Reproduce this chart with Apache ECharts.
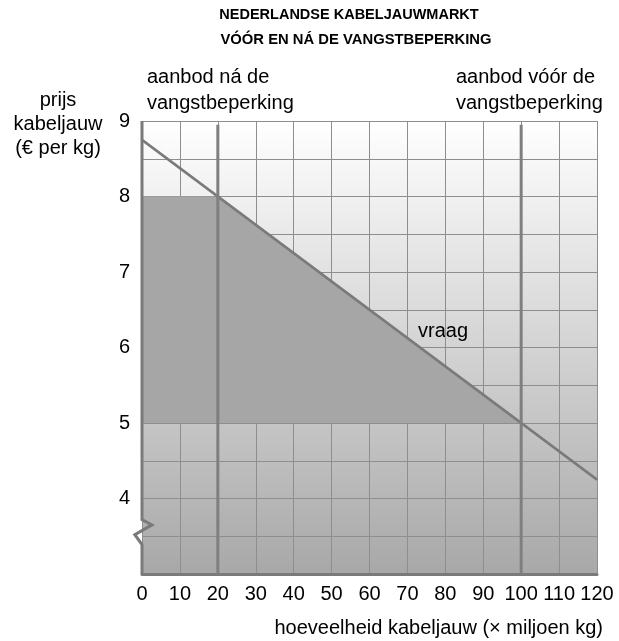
<!DOCTYPE html>
<html>
<head>
<meta charset="utf-8">
<script src="https://cdn.jsdelivr.net/npm/echarts@6/dist/echarts.min.js"></script>
<style>
  html, body { margin: 0; padding: 0; background: #fff; }
  #chart { width: 619px; height: 641px; }
</style>
</head>
<body>
<div id="chart"></div>
<script>
  // ===== 数据 =====
  const xTicks = [0, 10, 20, 30, 40, 50, 60, 70, 80, 90, 100, 110, 120];
  const yLabels = [4, 5, 6, 7, 8, 9];
  // vraaglijn (prijs tegen hoeveelheid)
  const demandX = [0, 120];
  const demandY = [8.75, 4.25];
  // aanbod na / voor de vangstbeperking
  const supplyAfter = 20;
  const supplyBefore = 100;
  const supplyTop = 8.95;
  // grijs vlak (omzet)
  const shadeX = [0, 0, 20, 100];
  const shadeY = [5, 8, 8, 5];
  // linker rand met breuk in de as
  const borderX = [0, 0, 2.6, -1.9, 0, 0];
  const borderY = [9, 3.72, 3.65, 3.52, 3.39, 3];

  const FONT = "Liberation Sans, Arial, sans-serif";
  const LINE = "#7a7a7a";

  const chart = echarts.init(document.getElementById("chart"));

  // veelhoek / polylijn over alle punten, via de assen van de grafiek
  function shapeSeries(xs, ys, z, build) {
    return {
      type: "custom", z: z, silent: true, clip: false,
      data: xs.map((x, i) => [x, ys[i]]),
      renderItem: (params, api) => {
        if (params.dataIndex !== 0) return null;
        return build(xs.map((x, i) => api.coord([x, ys[i]])));
      },
    };
  }

  const option = {
    animation: false,
    textStyle: { fontFamily: FONT },
    grid: {
      left: 142, right: 22, top: 121, bottom: 67,
      outerBoundsMode: "none",
      show: true, borderWidth: 0,
      backgroundColor: new echarts.graphic.LinearGradient(0, 0, 0, 1, [
        { offset: 0, color: "#ffffff" },
        { offset: 1, color: "#a8a8a8" },
      ]),
    },
    xAxis: {
      type: "value", min: 0, max: 120, interval: 10,
      axisLine: { show: true, onZero: false, lineStyle: { color: LINE, width: 3 } },
      axisTick: { show: false },
      splitLine: { show: true, lineStyle: { color: "#8e8e8e", width: 1 } },
      axisLabel: {
        margin: 10, fontSize: 20, color: "#000", fontFamily: FONT,
        formatter: v => xTicks.includes(v) ? String(v) : "",
      },
    },
    yAxis: {
      type: "value", min: 3, max: 9, interval: 0.5,
      axisLine: { show: false },
      axisTick: { show: false },
      splitLine: { show: true, lineStyle: { color: "#8e8e8e", width: 1 } },
      axisLabel: {
        margin: 12, fontSize: 20, color: "#000", fontFamily: FONT,
        formatter: v => yLabels.includes(v) ? String(v) : "",
      },
    },
    graphic: [
      { type: "text", style: { text: "NEDERLANDSE KABELJAUWMARKT", font: "bold 14.5px " + FONT, fill: "#000", align: "center", verticalAlign: "middle" }, x: 349, y: 15 },
      { type: "text", style: { text: "VÓÓR EN NÁ DE VANGSTBEPERKING", font: "bold 14.8px " + FONT, fill: "#000", align: "center", verticalAlign: "middle" }, x: 356, y: 40 },
      { type: "text", style: { text: "aanbod ná de\nvangstbeperking", font: "20px " + FONT, fill: "#000", lineHeight: 26, align: "left", verticalAlign: "middle" }, x: 147, y: 90 },
      { type: "text", style: { text: "aanbod vóór de\nvangstbeperking", font: "20px " + FONT, fill: "#000", lineHeight: 26, align: "left", verticalAlign: "middle" }, x: 456, y: 90 },
      { type: "text", style: { text: "prijs\nkabeljauw\n(€ per kg)", font: "20px " + FONT, fill: "#000", lineHeight: 24, align: "center", verticalAlign: "middle" }, x: 58, y: 124 },
      { type: "text", style: { text: "vraag", font: "20px " + FONT, fill: "#000", align: "center", verticalAlign: "middle" }, x: 443, y: 331 },
      { type: "text", style: { text: "hoeveelheid kabeljauw (× miljoen kg)", font: "20px " + FONT, fill: "#000", align: "right", verticalAlign: "middle" }, x: 603, y: 628 },
    ],
    series: [
      shapeSeries(shadeX, shadeY, 2, pts => ({
        type: "polygon", shape: { points: pts }, style: { fill: "#a6a6a6" },
      })),
      {
        type: "line", z: 3, symbol: "none", silent: true,
        data: demandX.map((x, i) => [x, demandY[i]]),
        lineStyle: { color: LINE, width: 2.5 },
      },
      {
        type: "line", z: 3, symbol: "none", silent: true,
        data: [[supplyAfter, 3], [supplyAfter, supplyTop]],
        lineStyle: { color: "#7f7f7f", width: 3 },
      },
      {
        type: "line", z: 3, symbol: "none", silent: true,
        data: [[supplyBefore, 3], [supplyBefore, supplyTop]],
        lineStyle: { color: "#7f7f7f", width: 3 },
      },
      shapeSeries(borderX, borderY, 4, pts => ({
        type: "polyline", shape: { points: pts },
        style: { stroke: LINE, lineWidth: 3, fill: null, lineJoin: "miter" },
      })),
    ],
  };

  chart.setOption(option);
</script>
</body>
</html>
